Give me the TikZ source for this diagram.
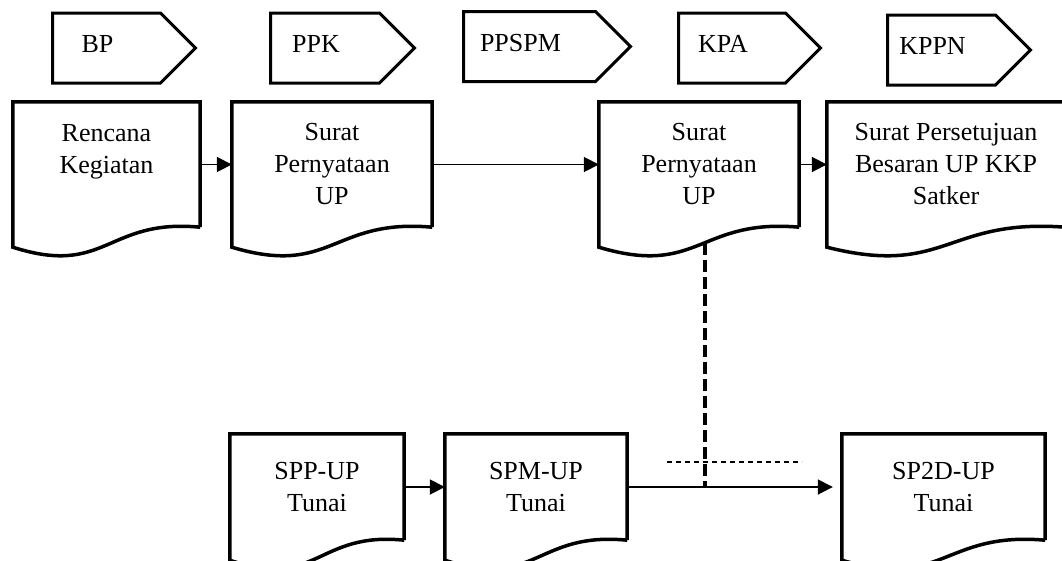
\documentclass[tikz,border=0pt]{standalone}
\usepackage{fontspec}
\setmainfont{Liberation Serif}
\usepackage{tikz}
\usetikzlibrary{shapes.symbols}
\usetikzlibrary{arrows.meta}
\usetikzlibrary{calc}

\tikzset{
  tagbox/.style={draw,line width=3pt,shape=signal,signal to=east,signal pointer angle=90,minimum height=70pt,inner sep=2pt,
    text height=18pt,text depth=9pt,execute at end node={\hspace*{18pt}}},
  docbox/.style={inner sep=0pt,align=center},
  docline/.style={line width=3.5pt},
  flow/.style={line width=1.8pt,-{Triangle[length=15pt,width=15pt]}},
  guide/.style={line width=4pt,dash pattern=on 12pt off 5pt},
  hint/.style={line width=1.2pt,dash pattern=on 5pt off 4pt}
}

\begin{document}
\begin{tikzpicture}[x=1pt,y=1pt,font=\fontsize{26}{32}\selectfont]
  \useasboundingbox (0,0) rectangle (1062,-560);
  \clip (0,0) rectangle (1062,-560);
  % actors
  \node[tagbox,minimum width=143pt] (tBP) at (106.5,-48) {BP};
  \node[tagbox,minimum width=144pt] (tPPK) at (325,-48) {PPK};
  \node[tagbox,minimum width=167pt] (tPPSPM) at (529.5,-46.5) {PPSPM};
  \node[tagbox,minimum width=142pt] (tKPA) at (732,-48) {KPA};
  \node[tagbox,minimum width=143pt] (tKPPN) at (941.5,-50) {KPPN};
  % documents
  \node[docbox,minimum width=187pt,minimum height=125pt] (renc) at (106.5,-164.5) {Rencana\\Kegiatan\\\mbox{}};
  \node[docbox,minimum width=200pt,minimum height=125pt] (supk) at (332,-164.5) {Surat\\Pernyataan\\UP};
  \node[docbox,minimum width=200pt,minimum height=125pt] (supa) at (699,-164.5) {Surat\\Pernyataan\\UP};
  \node[docbox,minimum width=238pt,minimum height=125pt] (sps) at (946,-164.5) {Surat Persetujuan\\Besaran UP KKP\\Satker};
  \node[docbox,minimum width=174pt,minimum height=106pt] (spp) at (317,-487) {SPP-UP\\Tunai};
  \node[docbox,minimum width=182pt,minimum height=106pt] (spm) at (536,-487) {SPM-UP\\Tunai};
  \node[docbox,minimum width=203pt,minimum height=106pt] (sptd) at (943.5,-487) {SP2D-UP\\Tunai};
  \foreach \n in {renc,supk,supa,sps,spp,spm,sptd}
    \draw[docline] (\n.south east) -- (\n.north east) -- (\n.north west)
      -- ($(\n.south west)+(0,-20)$)
      .. controls ($(\n.south)+(0,-50)$) and ($(\n.south)+(0,9)$) .. (\n.south east);
  % flow
  \draw[flow] (renc) -- (supk);
  \draw[flow] (supk) -- (supa);
  \draw[flow] (supa) -- (sps);
  \draw[flow] (spp) -- (spm);
  \draw[flow,shorten >=9pt] (spm) -- (sptd);
  % link KPA to the SPM line
  \coordinate (kpaw) at (705,-243);
  \coordinate (cross) at (kpaw |- spm.east);
  \draw[guide] (kpaw) -- (cross);
  \coordinate (hl) at (667,-462);
  \coordinate (hr) at (802,-462);
  \draw[hint] (hl) -- (hr);
\end{tikzpicture}
\end{document}
